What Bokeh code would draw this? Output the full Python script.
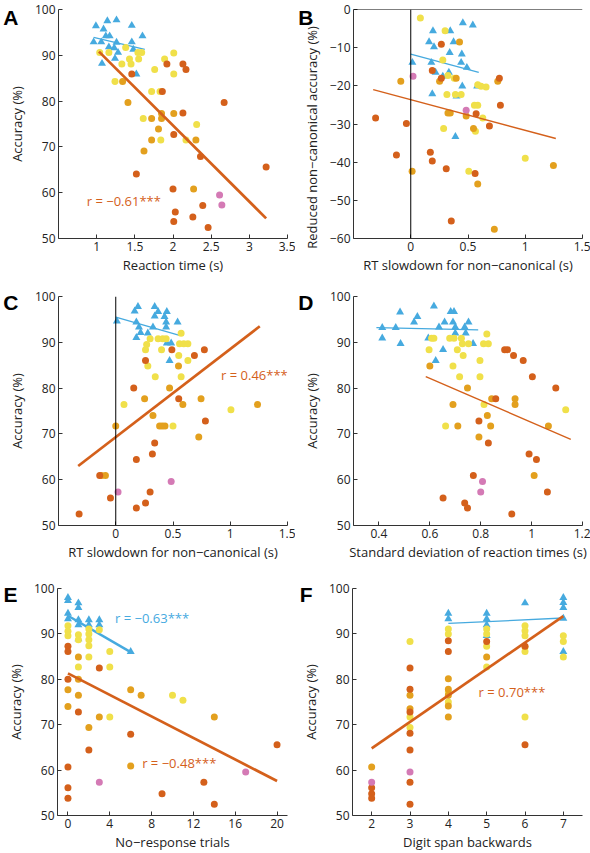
from bokeh.plotting import figure
from bokeh.models import Range1d, FixedTicker, CustomJSTickFormatter, Label, Span, LinearAxis
from bokeh.layouts import column, row
from bokeh.embed import file_html
from bokeh.resources import INLINE

# ---------------- data ----------------
# Panel A: reaction time vs accuracy
A_blue_x = [0.99, 1.14, 1.26, 1.46, 1.09, 1.12, 1.17, 1.60, 0.96, 1.06, 1.26, 1.46, 1.16, 1.23, 1.28, 1.48, 1.07, 1.24, 1.52]
A_blue_y = [96.4, 97.5, 97.7, 96.5, 95.7, 94.2, 94.2, 94.2, 92.9, 92.9, 92.8, 92.9, 91.8, 91.6, 90.6, 91.3, 88.2, 89.3, 85.9]
A_yellow_x = [1.04, 1.16, 1.33, 1.38, 1.43, 1.45, 1.54, 1.59, 1.55, 1.24, 1.89, 2.01, 2.01, 1.76, 1.72, 1.83, 1.61, 1.84, 2.31, 2.17]
A_yellow_y = [90.6, 90.6, 88.1, 91.7, 89.2, 88.1, 90.6, 90.6, 89.2, 84.3, 89.2, 90.5, 85.9, 86.9, 82.1, 82.1, 76.2, 71.5, 74.9, 71.5]
A_orange_x = [1.34, 1.41, 1.72, 1.81, 1.85, 1.85, 1.72, 1.62, 2.01, 2.30, 2.27]
A_orange_y = [84.3, 79.7, 76.2, 73.9, 77.3, 76.2, 71.5, 69.1, 77.3, 71.5, 60.8]
A_dark_x = [1.46, 1.92, 2.13, 2.17, 1.86, 2.67, 2.13, 2.01, 2.36, 1.52, 3.22, 2.00, 2.03, 2.01, 2.26, 2.39, 2.46]
A_dark_y = [85.9, 88.1, 88.1, 86.9, 82.1, 79.7, 77.4, 72.7, 67.9, 64.1, 65.6, 60.8, 55.8, 53.7, 54.7, 57.2, 52.4]
A_pink_x = [2.61, 2.64]
A_pink_y = [59.5, 57.3]
A_fit_blue_x = [0.96, 1.63]
A_fit_blue_y = [93.9, 91.3]
A_fit_x = [1.03, 3.22]
A_fit_y = [90.8, 54.4]

# Panel B: RT slowdown vs reduced non-canonical accuracy
B_blue_x = [0.455, 0.542, 0.194, 0.345, 0.16, 0.374, 0.203, 0.34, 0.446, 0.014, 0.18, 0.44, 0.49, 0.217, 0.333, 0.28, 0.45, 0.58, 0.188, 0.40, 0.39]
B_blue_y = [-3.5, -4.1, -5.6, -5.6, -8.5, -8.5, -9.8, -11.3, -11.7, -13.9, -13.9, -13.9, -15.2, -16.5, -16.5, -17.5, -20.1, -20.1, -22.1, -22.7, -33.3]
B_yellow_x = [0.084, 0.30, 0.28, 0.325, 0.38, 0.316, 0.39, 0.44, 0.585, 0.614, 0.658, 0.556, 0.585, 0.565, 0.629, 0.287, 0.507, 1.0]
B_yellow_y = [-2.2, -5.6, -13.2, -17.3, -18.0, -22.3, -22.3, -22.3, -19.7, -20.1, -20.3, -25.1, -25.1, -31.9, -28.4, -31.2, -42.4, -39.0]
B_orange_x = [-0.087, 0.426, 0.252, 0.397, 0.325, 0.345, 0.484, 0.548, 0.585, 0.012, 0.76, 1.246, 0.73]
B_orange_y = [-18.8, -8.5, -18.8, -18.0, -27.1, -27.1, -27.9, -31.2, -45.7, -42.4, -18.8, -40.9, -57.6]
B_dark_x = [0.267, 0.188, 0.267, 0.774, 0.783, 0.571, 0.687, -0.307, -0.038, -0.125, 0.171, 0.188, 0.31, 0.562, 0.354]
B_dark_y = [-9.1, -16.0, -18.0, -18.0, -25.1, -27.3, -30.5, -28.4, -29.9, -38.1, -37.4, -39.7, -41.7, -43.0, -55.4]
B_pink_x = [0.02, 0.484]
B_pink_y = [-17.5, -26.4]
B_fit_blue_x = [0.0, 0.594]
B_fit_blue_y = [-11.7, -16.5]
B_fit_x = [-0.328, 1.267]
B_fit_y = [-21.0, -33.8]

# Panel C: RT slowdown vs accuracy
C_blue_x = [0.01, 0.165, 0.194, 0.34, 0.37, 0.446, 0.34, 0.426, 0.18, 0.325, 0.44, 0.54, 0.203, 0.217, 0.18, 0.28, 0.44, 0.446, 0.484, 0.47]
C_blue_y = [94.6, 96.8, 97.8, 97.8, 96.7, 96.7, 95.7, 95.6, 94.4, 93.3, 94.4, 94.4, 93.3, 92.1, 91.0, 92.0, 93.3, 89.8, 89.8, 86.0]
C_yellow_x = [0.571, 0.30, 0.37, 0.41, 0.44, 0.27, 0.557, 0.594, 0.63, 0.26, 0.40, 0.55, 0.63, 0.28, 0.345, 0.571, 0.072, 0.50, 1.006]
C_yellow_y = [92.0, 90.8, 90.8, 90.8, 90.8, 89.5, 89.7, 89.7, 89.7, 88.4, 88.4, 87.1, 86.0, 84.8, 82.5, 82.5, 76.4, 71.7, 75.3]
C_orange_x = [0.548, 0.252, 0.47, 0.325, 0.383, 0.406, 0.43, 0.586, 0.745, 0.725, 1.238, 0.0, -0.125, -0.09]
C_orange_y = [84.8, 77.7, 80.0, 74.0, 71.7, 71.7, 71.7, 76.4, 77.7, 69.3, 76.4, 71.7, 60.9, 60.9]
C_dark_x = [0.26, 0.49, 0.687, 0.774, 0.157, 0.55, 0.783, 0.34, 0.32, 0.18, -0.14, -0.046, 0.30, 0.18, 0.26, -0.32]
C_dark_y = [86.0, 88.4, 87.1, 88.4, 80.0, 77.7, 72.8, 68.0, 65.6, 64.4, 60.9, 56.0, 57.3, 53.8, 54.9, 52.5]
C_pink_x = [0.02, 0.484]
C_pink_y = [57.3, 59.6]
C_fit_blue_x = [0.0, 0.557]
C_fit_blue_y = [95.5, 91.5]
C_fit_x = [-0.328, 1.258]
C_fit_y = [63.0, 93.5]

# Panel D: SD of reaction times vs accuracy
D_blue_x = [0.413, 0.413, 0.466, 0.483, 0.485, 0.538, 0.551, 0.616, 0.594, 0.636, 0.658, 0.682, 0.695, 0.691, 0.70, 0.70, 0.737, 0.752, 0.741, 0.652, 0.623, 0.77]
D_blue_y = [93.2, 90.9, 93.2, 96.6, 89.7, 94.4, 95.6, 97.9, 90.9, 93.3, 94.4, 96.7, 96.7, 94.4, 93.3, 92.0, 93.3, 94.4, 92.0, 88.4, 86.0, 89.7]
D_yellow_x = [0.597, 0.607, 0.616, 0.678, 0.695, 0.724, 0.728, 0.752, 0.708, 0.731, 0.797, 0.824, 0.811, 0.83, 0.691, 0.717, 0.797, 0.813, 0.662, 1.134]
D_yellow_y = [88.4, 90.9, 90.9, 90.9, 90.9, 90.9, 89.7, 89.7, 88.4, 87.1, 86.0, 91.8, 89.7, 89.7, 84.8, 82.5, 82.5, 76.4, 71.7, 75.3]
D_orange_x = [0.60, 0.748, 0.691, 0.843, 0.935, 0.935, 0.826, 0.839, 0.71, 0.793, 1.066, 1.01]
D_orange_y = [84.8, 80.0, 76.4, 77.7, 77.7, 76.4, 74.0, 71.7, 71.7, 69.3, 71.7, 60.9]
D_dark_x = [0.894, 0.905, 0.929, 0.967, 1.003, 1.095, 0.859, 0.793, 0.83, 0.99, 1.019, 0.771, 1.062, 0.652, 0.737, 0.748, 0.922]
D_dark_y = [88.4, 88.4, 87.1, 86.0, 82.5, 80.0, 77.7, 72.8, 68.0, 65.6, 64.4, 60.9, 57.3, 56.0, 54.9, 53.8, 52.5]
D_pink_x = [0.807, 0.80]
D_pink_y = [59.6, 57.3]
D_fit_blue_x = [0.39, 0.79]
D_fit_blue_y = [93.2, 92.7]
D_fit_x = [0.584, 1.154]
D_fit_y = [82.5, 68.8]

# Panel E: no-response trials vs accuracy
E_blue_x = [0, 0, 0, 0, 1, 1, 1, 1, 1, 2, 2, 3, 3, 6]
E_blue_y = [98.0, 97.3, 94.5, 93.3, 96.8, 95.8, 93.1, 92.0, 88.9, 93.1, 92.0, 93.1, 92.0, 86.1]
E_yellow_x = [0, 0, 0, 1, 1, 1, 2, 2, 2, 2, 2, 3, 4, 4, 4, 10, 11]
E_yellow_y = [91.8, 90.6, 89.6, 89.8, 88.7, 82.7, 91.1, 90.0, 88.7, 87.4, 84.9, 90.9, 86.1, 82.7, 71.7, 76.5, 75.4]
E_orange_x = [0, 0, 1, 1, 1, 2, 3, 6, 6, 7, 14]
E_orange_y = [77.7, 74.0, 84.9, 80.0, 76.5, 69.4, 71.7, 77.7, 60.9, 76.5, 71.7]
E_dark_x = [0, 0, 0, 0, 0, 0, 1, 2, 3, 6, 9, 13, 14, 20]
E_dark_y = [87.3, 86.1, 80.0, 60.7, 56.1, 53.8, 72.8, 64.4, 82.5, 67.9, 54.8, 57.3, 52.5, 65.6]
E_pink_x = [3, 17]
E_pink_y = [57.3, 59.6]
E_fit_blue_x = [0, 6]
E_fit_blue_y = [94.0, 86.0]
E_fit_x = [0, 20]
E_fit_y = [81.3, 57.6]

# Panel F: digit span backwards vs accuracy
F_blue_x = [4, 4, 5, 5, 5, 5, 6, 7, 7, 7, 7, 7]
F_blue_y = [94.5, 93.3, 94.5, 93.3, 92.0, 89.6, 96.8, 98.0, 96.9, 95.8, 93.4, 86.1]
F_yellow_x = [3, 3, 3, 4, 4, 4, 4, 5, 5, 5, 5, 6, 6, 6, 6, 6, 6, 7, 7, 7]
F_yellow_y = [88.3, 71.7, 69.4, 91.1, 90.0, 77.2, 75.0, 91.1, 90.0, 87.3, 82.7, 91.8, 90.7, 89.6, 87.1, 86.1, 71.7, 89.6, 88.3, 84.9]
F_orange_x = [2, 3, 3, 4, 4, 4, 4, 4, 5]
F_orange_y = [60.7, 76.5, 73.5, 80.1, 77.8, 76.5, 74.1, 71.7, 84.9]
F_dark_x = [2, 2, 2, 3, 3, 3, 3, 3, 3, 3, 4, 4, 5, 6, 6]
F_dark_y = [56.1, 54.8, 53.8, 82.5, 77.8, 72.8, 68.1, 64.4, 57.3, 52.5, 88.5, 86.1, 88.3, 87.3, 65.6]
F_pink_x = [2, 3]
F_pink_y = [57.3, 59.6]
F_fit_blue_x = [4, 7]
F_fit_blue_y = [92.3, 93.5]
F_fit_x = [2, 7]
F_fit_y = [64.8, 93.9]

# ---------------- style ----------------
FONT = "Open Sans"
BLUE = "#46AADF"
YELLOW = "#F0E04A"
ORANGE = "#E3A01E"
DARK = "#D4601B"
PINK = "#D47AB5"
AXIS = "#333333"
TEXT = "#222222"

FMT = CustomJSTickFormatter(code="return String(tick).replace('-', '\u2212');")

FW = 230   # frame width
BL = 57    # left border


def make_panel(letter, xr, yr, xticks, yticks, xlabel, ylabel, h, fh, bt, bb, ly_px):
    p = figure(width=295, height=h, x_range=Range1d(*xr), y_range=Range1d(*yr),
               output_backend="svg", toolbar_location=None,
               min_border_left=BL, min_border_right=295 - BL - FW, min_border_top=bt, min_border_bottom=bb)
    p.outline_line_color = None
    p.grid.visible = False
    for ax, ticks, lab in ((p.xaxis[0], xticks, xlabel), (p.yaxis[0], yticks, ylabel)):
        ax.ticker = FixedTicker(ticks=ticks)
        ax.formatter = FMT
        ax.axis_line_color = AXIS
        ax.axis_line_width = 1
        ax.major_tick_line_color = AXIS
        ax.major_tick_in = 4
        ax.major_tick_out = 0
        ax.minor_tick_line_color = None
        ax.major_label_text_font = FONT
        ax.major_label_text_font_size = "12px"
        ax.major_label_text_color = TEXT
        ax.major_label_standoff = 3
        ax.axis_label = lab
        ax.axis_label_text_font = FONT
        ax.axis_label_text_font_size = "13px"
        ax.axis_label_text_font_style = "normal"
        ax.axis_label_text_color = TEXT
    p.xaxis[0].axis_label_standoff = 2
    p.yaxis[0].axis_label_standoff = 6
    # panel letter: an outer left axis carrying a single bold label near the frame top
    ly = yr[1] - ly_px * (yr[1] - yr[0]) / fh
    lax = LinearAxis(ticker=FixedTicker(ticks=[ly]),
                     formatter=CustomJSTickFormatter(code="return '%s';" % letter),
                     axis_line_color=None, major_tick_line_color=None, minor_tick_line_color=None,
                     major_tick_in=0, major_tick_out=0, major_label_standoff=-14,
                     major_label_text_font="Liberation Sans", major_label_text_font_style="bold",
                     major_label_text_font_size="21px", major_label_text_color="black")
    p.add_layout(lax, "left")
    return p


def draw(p, bx, by, yx, yy, ox, oy, dx, dy, kx, ky, fbx, fby, fx, fy, blw, olw):
    p.scatter(bx, by, marker="triangle", size=8, fill_color=BLUE, line_color=None)
    p.line(fbx, fby, line_color=BLUE, line_width=blw)
    p.scatter(yx, yy, marker="circle", size=7, fill_color=YELLOW, line_color=None)
    p.scatter(ox, oy, marker="circle", size=7, fill_color=ORANGE, line_color=None)
    p.scatter(dx, dy, marker="circle", size=7, fill_color=DARK, line_color=None)
    p.scatter(kx, ky, marker="circle", size=7, fill_color=PINK, line_color=None)
    p.line(fx, fy, line_color=DARK, line_width=olw)


def rlabel(p, x, y, text, color):
    p.add_layout(Label(x=x, y=y, text=text, text_color=color, text_font=FONT,
                       text_font_size="13px", text_baseline="middle", text_align="left"))


acc_ticks = [50, 60, 70, 80, 90, 100]

# row 1 (frame 9..238)
pA = make_panel("A", (0.5, 3.5), (50, 100), [1, 1.5, 2, 2.5, 3, 3.5], acc_ticks,
                "Reaction time (s)", "Accuracy (%)", 288, 229, 9, 50, 7.5)
draw(pA, A_blue_x, A_blue_y, A_yellow_x, A_yellow_y, A_orange_x, A_orange_y, A_dark_x, A_dark_y,
     A_pink_x, A_pink_y, A_fit_blue_x, A_fit_blue_y, A_fit_x, A_fit_y, 1.3, 2.7)
rlabel(pA, 0.87, 58.2, "r = \u22120.61***", DARK)

# trailing no-break spaces push the long vertical label a little lower, as in the original
pB = make_panel("B", (-0.5, 1.5), (-60, 0), [0, 0.5, 1, 1.5], [-60, -50, -40, -30, -20, -10, 0],
                "RT slowdown for non\u2212canonical (s)",
                "Reduced non\u2212canonical accuracy (%)" + "\u00a0" * 8,
                288, 229, 9, 50, 7.5)
pB.add_layout(Span(location=0, dimension="height", line_color="black", line_width=1))
pB.add_layout(Span(location=0, dimension="width", line_color="black", line_width=1))
draw(pB, B_blue_x, B_blue_y, B_yellow_x, B_yellow_y, B_orange_x, B_orange_y, B_dark_x, B_dark_y,
     B_pink_x, B_pink_y, B_fit_blue_x, B_fit_blue_y, B_fit_x, B_fit_y, 1.3, 1.4)

# row 2 (frame 296..525)
pC = make_panel("C", (-0.5, 1.5), (50, 100), [0, 0.5, 1, 1.5], acc_ticks,
                "RT slowdown for non\u2212canonical (s)", "Accuracy (%)", 292, 229, 8, 55, 1)
pC.add_layout(Span(location=0, dimension="height", line_color="black", line_width=1))
draw(pC, C_blue_x, C_blue_y, C_yellow_x, C_yellow_y, C_orange_x, C_orange_y, C_dark_x, C_dark_y,
     C_pink_x, C_pink_y, C_fit_blue_x, C_fit_blue_y, C_fit_x, C_fit_y, 1.3, 2.7)
rlabel(pC, 0.92, 82.8, "r = 0.46***", DARK)

pD = make_panel("D", (0.3, 1.2), (50, 100), [0.4, 0.6, 0.8, 1, 1.2], acc_ticks,
                "Standard deviation of reaction times (s)", "Accuracy (%)", 292, 229, 8, 55, 1)
draw(pD, D_blue_x, D_blue_y, D_yellow_x, D_yellow_y, D_orange_x, D_orange_y, D_dark_x, D_dark_y,
     D_pink_x, D_pink_y, D_fit_blue_x, D_fit_blue_y, D_fit_x, D_fit_y, 1.3, 1.4)

# row 3 (frame 588..816)
pE = make_panel("E", (-1, 21), (50, 100), [0, 4, 8, 12, 16, 20], acc_ticks,
                "No\u2212response trials", "Accuracy (%)", 273, 228, 8, 37, 1.5)
draw(pE, E_blue_x, E_blue_y, E_yellow_x, E_yellow_y, E_orange_x, E_orange_y, E_dark_x, E_dark_y,
     E_pink_x, E_pink_y, E_fit_blue_x, E_fit_blue_y, E_fit_x, E_fit_y, 2.5, 2.7)
rlabel(pE, 4.5, 93.6, "r = \u22120.63***", BLUE)
rlabel(pE, 7.1, 61.5, "r = \u22120.48***", DARK)

pF = make_panel("F", (1.5, 7.5), (50, 100), [2, 3, 4, 5, 6, 7], acc_ticks,
                "Digit span backwards", "Accuracy (%)", 273, 228, 8, 37, 1.5)
draw(pF, F_blue_x, F_blue_y, F_yellow_x, F_yellow_y, F_orange_x, F_orange_y, F_dark_x, F_dark_y,
     F_pink_x, F_pink_y, F_fit_blue_x, F_fit_blue_y, F_fit_x, F_fit_y, 1.3, 2.7)
rlabel(pF, 4.79, 77.2, "r = 0.70***", DARK)

layout = column(row(pA, pB), row(pC, pD), row(pE, pF))
open("out.html", "w").write(file_html(layout, INLINE))
